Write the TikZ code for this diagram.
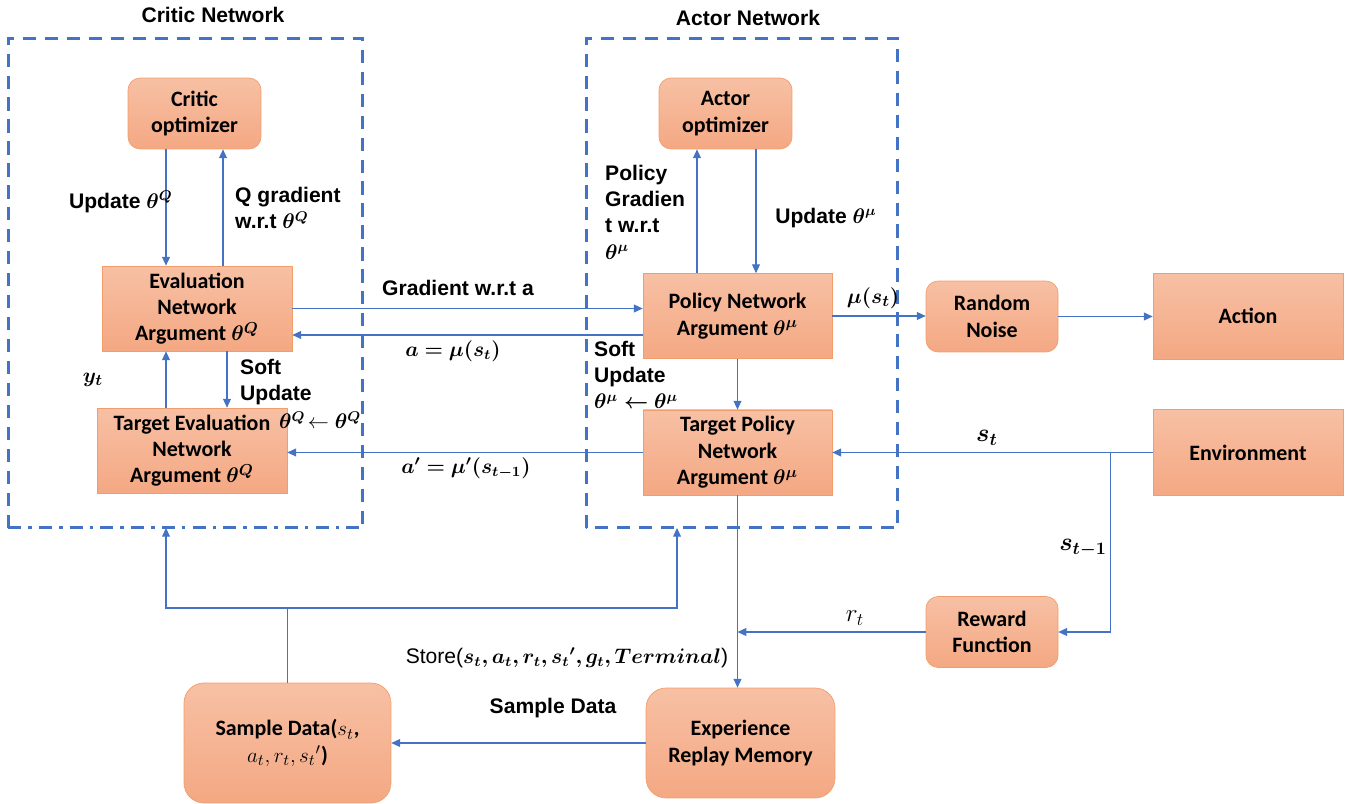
\documentclass[tikz,border=0pt]{standalone}
\usepackage{fontspec}
\setmainfont{Carlito}
\newfontfamily\arialfont{Liberation Sans}
\usepackage{amsmath,bm}
\usetikzlibrary{arrows.meta,positioning}

\definecolor{boxfill}{HTML}{F4A883}
\definecolor{boxtop}{HTML}{F7C0A4}
\definecolor{boxline}{HTML}{F29E6C}
\definecolor{linkblue}{HTML}{4472C4}

\begin{document}
\begin{tikzpicture}[x=0.02cm,y=-0.02cm,
    >={Triangle[length=5pt,width=4.5pt]},
    every node/.style={font=\fontsize{12.5}{15}\selectfont\bfseries},
    block/.style={draw=boxline, top color=boxtop, bottom color=boxfill, align=center, inner sep=2pt},
    netbox/.style={block, minimum width=3.8cm, minimum height=1.7cm},
    roundbox/.style={block, rounded corners=0.24cm, minimum width=2.66cm, minimum height=1.42cm},
    link/.style={draw=linkblue, line width=0.6pt},
    frame/.style={draw=linkblue, line width=1.7pt, dash pattern=on 7.5pt off 5pt},
    framedot/.style={draw=linkblue, line width=1.7pt, dash pattern=on 7.5pt off 4pt on 2pt off 4pt},
    lbl/.style={font=\arialfont\fontsize{12}{15}\selectfont\bfseries, align=left},
  ]
  \useasboundingbox (0,0) rectangle (1348,804);

  % frames
  \node[minimum width=7.1cm, minimum height=9.8cm, inner sep=0pt, outer sep=0pt] (cframe) at (185.5,283) {};
  \node[minimum width=6.24cm, minimum height=9.8cm, inner sep=0pt, outer sep=0pt] (aframe) at (742,283) {};
  \draw[frame] (cframe.south west) -- (cframe.north west) -- (cframe.north east) -- (cframe.south east);
  \draw[framedot] (cframe.south west) -- (cframe.south east);
  \draw[frame] (aframe.south west) rectangle (aframe.north east);
  \node[lbl] (ctitle) at (213,15) {Critic Network};
  \node[lbl] (atitle) at (748,18) {Actor Network};

  % critic side
  \node[roundbox] (copt) at (194.5,113.5) {Critic\\optimizer};
  \node[netbox] (eval) at (197,308.5) {Evaluation\\Network\\Argument $\bm{\theta^Q}$};
  \node[netbox] (teval) at (192,450.5) {Target Evaluation\\Network\\Argument $\bm{\theta^Q}$};

  % actor side
  \node[roundbox] (aopt) at (725.5,113.5) {Actor\\optimizer};
  \node[netbox, minimum width=3.78cm] (policy) at (737.5,316) {Policy Network\\Argument $\bm{\theta^\mu}$};
  \node[netbox, minimum width=3.78cm, on grid, below=2.73cm of policy] (tpolicy) {Target Policy\\Network\\Argument $\bm{\theta^\mu}$};

  % environment side
  \node[roundbox, minimum width=2.64cm] (noise) at (992,316.5) {Random\\Noise};
  \node[netbox, minimum height=1.72cm] (action) at (1248,316) {Action};
  \node[netbox, minimum height=1.72cm] (env) at (1248,452.5) {Environment};
  \node[roundbox, minimum width=2.64cm] (reward) at (992,632) {Reward\\Function};
  \node[roundbox, rounded corners=0.4cm, minimum width=3.78cm, minimum height=2.2cm] (memory) at (740.5,743) {Experience\\Replay Memory};
  \node[roundbox, rounded corners=0.4cm, minimum width=4.14cm, minimum height=2.4cm] (sample) at (287.5,743) {Sample Data($s_t$,\\$a_t, r_t, s_t{}'$)};

  % critic links
  \draw[link,->] ([xshift=-0.57cm]copt.south) -- ([xshift=-0.57cm]copt.south |- eval.north);
  \draw[link,->] ([xshift=0.57cm]copt.south |- eval.north) -- ([xshift=0.57cm]copt.south);
  \draw[link,->] ([xshift=0.6cm]eval.south) -- ([xshift=0.6cm]eval.south |- teval.north);
  \draw[link,->] ([xshift=-0.62cm]eval.south |- teval.north) -- ([xshift=-0.62cm]eval.south);

  % between networks
  \draw[link,->] (eval.east) -- (eval.east -| policy.west);
  \draw[link,->] ([yshift=-0.38cm]policy.west) -- ([yshift=-0.38cm]policy.west -| eval.east);
  \draw[link,->] (tpolicy.west) -- (tpolicy.west -| teval.east);

  % actor links
  \draw[link,->] ([xshift=0.61cm]aopt.south) -- ([xshift=0.61cm]aopt.south |- policy.north);
  \draw[link,->] ([xshift=-0.57cm]aopt.south |- policy.north) -- ([xshift=-0.57cm]aopt.south);
  \draw[link,->] (policy.south) -- (tpolicy.north);
  \draw[link,->] (policy.east) -- (policy.east -| noise.west);
  \draw[link,->] (noise.east) -- (noise.east -| action.west);

  % environment loop
  \draw[link,->] (env.west) -- (env.west -| tpolicy.east);
  \coordinate[left=0.84cm of env.west] (split);
  \draw[link,->] (split) |- (reward.east);
  \coordinate (rjoin) at (reward.west -| tpolicy.south);
  \draw[link,->] (reward.west) -- (rjoin);
  \draw[link,->] (tpolicy.south) -- (tpolicy.south |- memory.north);
  \draw[link,->] (memory.west) -- (memory.west -| sample.east);
  \coordinate (fork) at (sample.north |- 0,608);
  \draw[link] (sample.north) -- (fork);
  \draw[link,->] (fork) -| ([xshift=-0.39cm]cframe.south);
  \draw[link,->] (fork) -| ([xshift=-1.3cm]aframe.south);

  % labels
  \node[lbl, anchor=east] (updq) at (179,202) {Update $\bm{\theta^Q}$};
  \node[lbl, anchor=west] (qgrad) at (229,208) {Q gradient\\w.r.t $\bm{\theta^Q}$};
  \node (yt) at (93,380) {$\bm{y_t}$};
  \node[lbl, anchor=west] (csoft) at (234,382) {Soft\\Update};
  \node[lbl, anchor=west] (csoftq) at (273,420) {$\bm{\theta^Q}\!\leftarrow \bm{\theta^Q}$};
  \node[lbl] (grada) at (458,288) {Gradient w.r.t a};
  \node[lbl] (amu) at (453,351) {$\bm{a=\mu(s_t)}$};
  \node[lbl] (amuprime) at (466,468) {$\bm{a'=\mu'(s_{t-1})}$};
  \node[lbl, anchor=west] (pgrad) at (599,212) {Policy\\Gradien\\t w.r.t\\$\bm{\theta^\mu}$};
  \node[lbl] (updmu) at (826,218) {Update $\bm{\theta^\mu}$};
  \node[lbl, anchor=west] (asoft) at (588,375) {Soft\\Update\\$\bm{\theta^\mu \leftarrow \theta^\mu}$};
  \node (mus) at (873,298) {$\bm{\mu(s_t)}$};
  \node[font=\fontsize{14}{16}\selectfont] (st) at (987,438) {$\bm{s_t}$};
  \node[font=\fontsize{14}{16}\selectfont] (stprev) at (1083,548) {$\bm{s_{t-1}}$};
  \node[font=\fontsize{14}{16}\selectfont] (rt) at (855,618) {$r_t$};
  \node[lbl] (store) at (567,658) {\mdseries Store($\bm{s_t, a_t, r_t, s_t{}', g_t, Terminal}$)};
  \node[lbl] (sdata) at (553,708) {Sample Data};
\end{tikzpicture}
\end{document}
